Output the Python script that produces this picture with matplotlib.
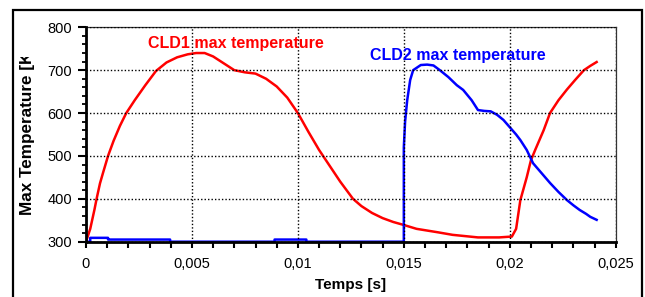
import numpy as np
import matplotlib.pyplot as plt
from matplotlib.patches import Rectangle
from matplotlib.ticker import MultipleLocator, FuncFormatter

plt.rcParams['font.family'] = ['Liberation Sans', 'DejaVu Sans']

# ----------------------------
# Data
# ----------------------------
cld1_t = [0, 0.0002, 0.0004, 0.0005, 0.00066, 0.0008, 0.00104, 0.0013, 0.0016,
          0.0019, 0.0023, 0.0028, 0.0033, 0.0038, 0.0043, 0.0048, 0.0052, 0.0056,
          0.006, 0.0065, 0.007, 0.0075, 0.008, 0.0085, 0.009, 0.0095, 0.01,
          0.0105, 0.011, 0.0115, 0.012, 0.0126, 0.013, 0.0135, 0.014, 0.0145,
          0.015, 0.0156, 0.0166, 0.0173, 0.0185, 0.0195, 0.0201, 0.0203, 0.0205,
          0.0208, 0.021, 0.0212, 0.0216, 0.0219, 0.0223, 0.0227, 0.0231, 0.0235,
          0.0238, 0.0241]
cld1_T = [300, 330, 375, 400, 436, 460, 500, 535, 570,
          600, 630, 665, 698, 718, 730, 737, 740, 740,
          732, 716, 700, 695, 692, 680, 662, 636, 600,
          556, 514, 477, 440, 400, 383, 367, 355, 346,
          339, 330, 322, 316, 310, 310, 312, 330, 397,
          450, 490, 514, 560, 600, 630, 655, 678, 700,
          710, 719]

cld2_t = [0, 0.0002, 0.0002, 0.00104, 0.00104, 0.00397, 0.00397, 0.0089, 0.0089,
          0.0104, 0.0104, 0.0150, 0.0150, 0.01506, 0.01516, 0.0153, 0.01544,
          0.0158, 0.0161, 0.0164, 0.0167, 0.0171, 0.0175, 0.0178, 0.0182,
          0.0185, 0.0188, 0.0191, 0.0194, 0.0197, 0.0200, 0.0203, 0.0205,
          0.0208, 0.0211, 0.0215, 0.0219, 0.0223, 0.0227, 0.0230, 0.0233,
          0.0236, 0.0238, 0.0241]
cld2_T = [300, 300, 309, 309, 305, 305, 300, 300, 305,
          305, 300, 300, 520, 580, 630, 677, 700,
          712, 713, 711, 700, 684, 665, 654, 630,
          607, 605, 604, 596, 584, 567, 550, 537,
          514, 483, 460, 437, 416, 397, 385, 374,
          365, 358, 351]

x_ticks = [0, 0.005, 0.01, 0.015, 0.02, 0.025]
y_ticks = [300, 400, 500, 600, 700, 800]


def comma_fmt(v, pos):
    if abs(v) < 1e-12:
        return "0"
    return ("%g" % v).replace(".", ",")


fig = plt.figure(figsize=(6.45, 2.97), dpi=100)
ax = fig.add_axes([86 / 645, 55.3 / 297, 529.7 / 645, 214.4 / 297])

ax.plot(cld1_t, cld1_T, color="#ff0000", linewidth=1.8)
ax.plot(cld2_t, cld2_T, color="#0000ff", linewidth=1.8)

ax.set_xlim(0, 0.025)
ax.set_ylim(300, 800)
ax.set_xticks(x_ticks)
ax.set_yticks(y_ticks)
ax.xaxis.set_minor_locator(MultipleLocator(0.001))
ax.yaxis.set_minor_locator(MultipleLocator(20))
ax.xaxis.set_major_formatter(FuncFormatter(comma_fmt))

ax.grid(True, which="major", color="black", linestyle=(0, (1, 1.5)), linewidth=1.0)
ax.set_axisbelow(False)

for side in ["left", "bottom"]:
    ax.spines[side].set_linewidth(2.0)
    ax.spines[side].set_zorder(3)
for side in ["top", "right"]:
    ax.spines[side].set_linewidth(0.9)
    ax.spines[side].set_color("#333333")

ax.tick_params(axis="y", which="major", direction="out", length=6, width=1.5,
               labelsize=10.5, pad=4)
ax.tick_params(axis="y", which="minor", direction="out", length=3, width=1.3)
ax.tick_params(axis="x", which="both", direction="out", length=4, width=1.5,
               labelsize=10.5, pad=7)

ax.text(0.00293, 763, "CLD1 max temperature", color="#ff0000", fontsize=11.5,
        fontweight="bold", va="center", ha="left")
ax.text(0.01341, 735, "CLD2 max temperature", color="#0000ff", fontsize=11.5,
        fontweight="bold", va="center", ha="left")

ax.set_xlabel("Temps [s]", fontsize=11, fontweight="bold", labelpad=5)
ax.set_ylabel("Max Temperature [K]", fontsize=12.3, fontweight="bold")
ax.yaxis.set_label_coords(-0.0963, 0.519)

# the original y label is cut off near its top end
cover = Rectangle((15 / 645, (297 - 57) / 297), 27 / 645, 45 / 297,
                  transform=fig.transFigure, facecolor="white", edgecolor="none",
                  zorder=5)
fig.patches.append(cover)

# outer frame of the original chart window
frame = Rectangle((13 / 645, -0.05), 629 / 645, 0.05 + 287 / 297,
                  transform=fig.transFigure, fill=False, edgecolor="black",
                  linewidth=1.6, clip_on=False, zorder=6)
fig.patches.append(frame)

plt.savefig("out.png", dpi=100)
